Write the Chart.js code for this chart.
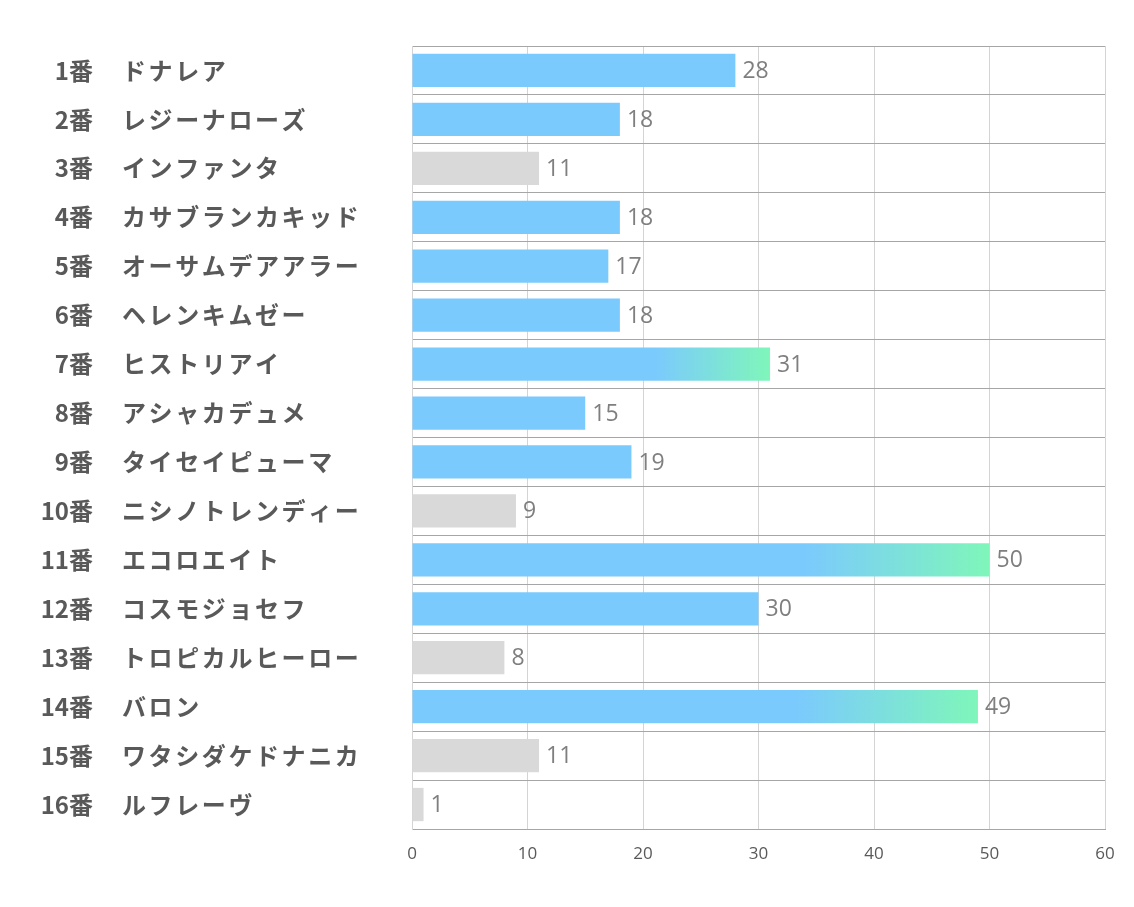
<!DOCTYPE html>
<html>
<head>
<meta charset="utf-8">
<script src="https://cdn.jsdelivr.net/npm/chart.js@4/dist/chart.umd.min.js"></script>
<style>
html,body{margin:0;padding:0;background:#fff;}
#wrap{width:1134px;height:907px;position:relative;}
</style>
</head>
<body>
<div id="wrap"><canvas id="c" width="1134" height="907"></canvas></div>
<script>
const numbers = ["1番","2番","3番","4番","5番","6番","7番","8番","9番","10番","11番","12番","13番","14番","15番","16番"];
const names = ["ドナレア","レジーナローズ","インファンタ","カサブランカキッド","オーサムデアアラー","ヘレンキムゼー","ヒストリアイ","アシャカデュメ","タイセイピューマ","ニシノトレンディー","エコロエイト","コスモジョセフ","トロピカルヒーロー","バロン","ワタシダケドナニカ","ルフレーヴ"];
const values = [28,18,11,18,17,18,31,15,19,9,50,30,8,49,11,1];
// group: "top" = gradient highlight, "main" = blue, "low" = gray
const groups = ["main","main","low","main","main","main","top","main","main","low","top","main","low","top","low","low"];
const xTicks = [0,10,20,30,40,50,60];

const categories = numbers.map((n,i)=>n+"　"+names[i]);

const BLUE = "rgb(123,202,253)";
const GREEN = "rgb(127,246,186)";
const GRAY = "rgb(217,217,217)";

function barColor(ctx){
  const i = ctx.dataIndex;
  const g = groups[i];
  if (g === "low") return GRAY;
  if (g === "main") return BLUE;
  const chart = ctx.chart;
  const xs = chart.scales && chart.scales.x;
  if (!chart.chartArea || !xs) return BLUE;
  const x0 = xs.getPixelForValue(0);
  const x1 = xs.getPixelForValue(values[i]);
  const grad = chart.ctx.createLinearGradient(x0,0,x1,0);
  grad.addColorStop(0, BLUE);
  grad.addColorStop(0.68, BLUE);
  grad.addColorStop(1, GREEN);
  return grad;
}

const labelPlugin = {
  id: "labels",
  afterDatasetsDraw(chart){
    const ctx = chart.ctx;
    const ys = chart.scales.y;
    const meta = chart.getDatasetMeta(0);
    ctx.save();
    ctx.font = "bold 24px 'Noto Sans CJK JP', sans-serif";
    ctx.fillStyle = "#595959";
    ctx.textBaseline = "middle";
    numbers.forEach((n,i)=>{
      const y = ys.getPixelForValue(i);
      ctx.letterSpacing = "0px";
      ctx.textAlign = "right";
      ctx.fillText(n, 93, y);
      ctx.letterSpacing = "2.6px";
      ctx.textAlign = "left";
      ctx.fillText(names[i], 122, y);
    });
    ctx.letterSpacing = "0px";
    ctx.font = "23px 'Open Sans', sans-serif";
    ctx.fillStyle = "#7f7f7f";
    ctx.textAlign = "left";
    meta.data.forEach((bar,i)=>{
      ctx.fillText(String(values[i]), bar.x + 7, bar.y + 1);
    });
    ctx.restore();
  }
};

new Chart(document.getElementById("c"), {
  type: "bar",
  data: {
    labels: categories,
    datasets: [{
      data: values,
      backgroundColor: barColor,
      borderWidth: 0,
      barPercentage: 0.68,
      categoryPercentage: 1.0
    }]
  },
  options: {
    indexAxis: "y",
    responsive: false,
    animation: false,
    devicePixelRatio: 1,
    layout: { padding: { left: 0, right: 29, top: 46, bottom: 28 } },
    plugins: { legend: { display: false }, tooltip: { enabled: false } },
    scales: {
      x: {
        min: 0, max: 60,
        afterBuildTicks(scale){ scale.ticks = xTicks.map(v=>({value:v})); },
        afterFit(scale){ scale.height = 50; },
        grid: { color: "#d4d4d4", lineWidth: 1, drawTicks: false },
        border: { display: true, color: "#a6a6a6" },
        ticks: {
          padding: 15,
          color: "#595959",
          font: { family: "'Liberation Sans Narrow', 'Open Sans', sans-serif", size: 17 },
          maxRotation: 0
        }
      },
      y: {
        afterFit(scale){ scale.width = 412; },
        grid: { color: "#a6a6a6", lineWidth: 1, drawTicks: false, offset: true },
        border: { display: true, color: "#d4d4d4" },
        ticks: { display: false }
      }
    }
  },
  plugins: [labelPlugin]
});
</script>
</body>
</html>
